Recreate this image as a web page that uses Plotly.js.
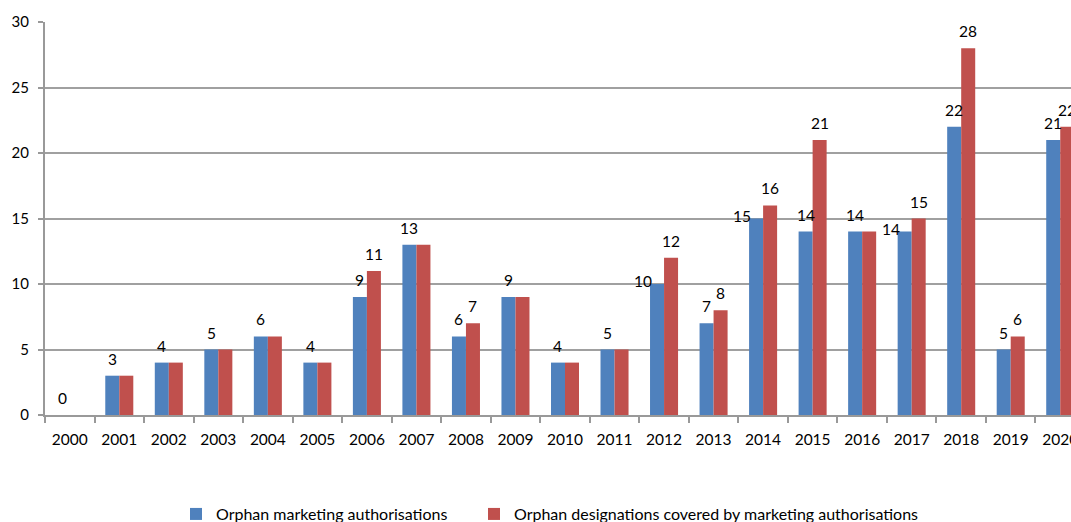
<!DOCTYPE html>
<html>
<head>
<meta charset="utf-8">
<script src="https://cdn.plot.ly/plotly-3.0.1.min.js"></script>
<style>
html, body { margin: 0; padding: 0; overflow: hidden; background: #fff; }
#chart { width: 1085px; height: 522px; }
</style>
</head>
<body>
<div id="chart"></div>
<script>
const years = ['2000','2001','2002','2003','2004','2005','2006','2007','2008','2009','2010','2011','2012','2013','2014','2015','2016','2017','2018','2019','2020'];
const marketingAuthorisations = [0,3,4,5,6,4,9,13,6,9,4,5,10,7,15,14,14,14,22,5,21];
const designationsCovered = [0,3,4,5,6,4,11,13,7,9,4,5,12,8,16,21,14,15,28,6,22];
const seriesNames = ['Orphan marketing authorisations', 'Orphan designations covered by marketing authorisations'];
const yTicks = [0,5,10,15,20,25,30];

// style config (not data)
const BLUE = '#4F81BD', RED = '#C0504D';
const FONT = 'Lato, sans-serif';
const W = 1085, H = 522, ML = 45, MR = 0, MT = 22, MB = 107;
const BARGAP = 0.434;
const nudgeLeftYears = ['2012','2014','2017'];

const plotW = W - ML - MR;
const catW = plotW / years.length;
const half = (1 - BARGAP) * catW / 4;

const labelFont = {family: FONT, size: 15.5, color: '#000'};
const annotations = [];
years.forEach((yr, i) => {
  const b = marketingAuthorisations[i], r = designationsCovered[i];
  const nudge = nudgeLeftYears.includes(yr);
  annotations.push({
    x: i, y: b, xref: 'x', yref: 'y', text: String(b), showarrow: false,
    xshift: -half + (nudge ? -14 : 0), yshift: nudge ? 3 : 17,
    font: labelFont
  });
  if (r !== b) {
    annotations.push({
      x: i, y: r, xref: 'x', yref: 'y', text: String(r), showarrow: false,
      xshift: half, yshift: 17,
      font: labelFont
    });
  }
});

const traces = [
  {type: 'bar', x: years, y: marketingAuthorisations, name: seriesNames[0], marker: {color: BLUE}, legend: 'legend'},
  {type: 'bar', x: years, y: designationsCovered, name: seriesNames[1], marker: {color: RED}, legend: 'legend2'}
];

const legendFont = {family: FONT, size: 16, color: '#000'};
const pxToPaperX = px => (px - ML) / plotW;

const layout = {
  width: W, height: H,
  margin: {l: ML, r: MR, t: MT, b: MB, pad: 0, autoexpand: false},
  paper_bgcolor: '#fff', plot_bgcolor: '#fff',
  barmode: 'group', bargap: BARGAP, bargroupgap: 0,
  font: {family: FONT, size: 15, color: '#000'},
  xaxis: {
    type: 'category', range: [-0.5, years.length - 0.5],
    showline: true, linecolor: '#999', linewidth: 2,
    ticks: 'outside', tickson: 'boundaries', ticklen: 6, tickcolor: '#999', tickwidth: 2,
    showgrid: false, zeroline: false, ticklabelstandoff: 9,
    tickfont: {family: FONT, size: 15.5, color: '#000'}
  },
  yaxis: {
    range: [0, 30], tickvals: yTicks, ticktext: yTicks.map(String),
    showline: true, linecolor: '#999', linewidth: 2,
    ticks: 'outside', ticklen: 5, tickcolor: '#999', tickwidth: 2,
    showgrid: true, gridcolor: '#a0a0a0', gridwidth: 2, zeroline: false,
    tickfont: {family: FONT, size: 15, color: '#000'}, ticklabelstandoff: 6
  },
  showlegend: true,
  legend: {
    orientation: 'h', x: pxToPaperX(176), xanchor: 'left', y: -0.252, yanchor: 'middle',
    font: legendFont, bgcolor: 'rgba(0,0,0,0)'
  },
  legend2: {
    orientation: 'h', x: pxToPaperX(474), xanchor: 'left', y: -0.252, yanchor: 'middle',
    font: legendFont, bgcolor: 'rgba(0,0,0,0)'
  },
  annotations: annotations
};

Plotly.newPlot('chart', traces, layout, {displayModeBar: false, staticPlot: true});
</script>
</body>
</html>
